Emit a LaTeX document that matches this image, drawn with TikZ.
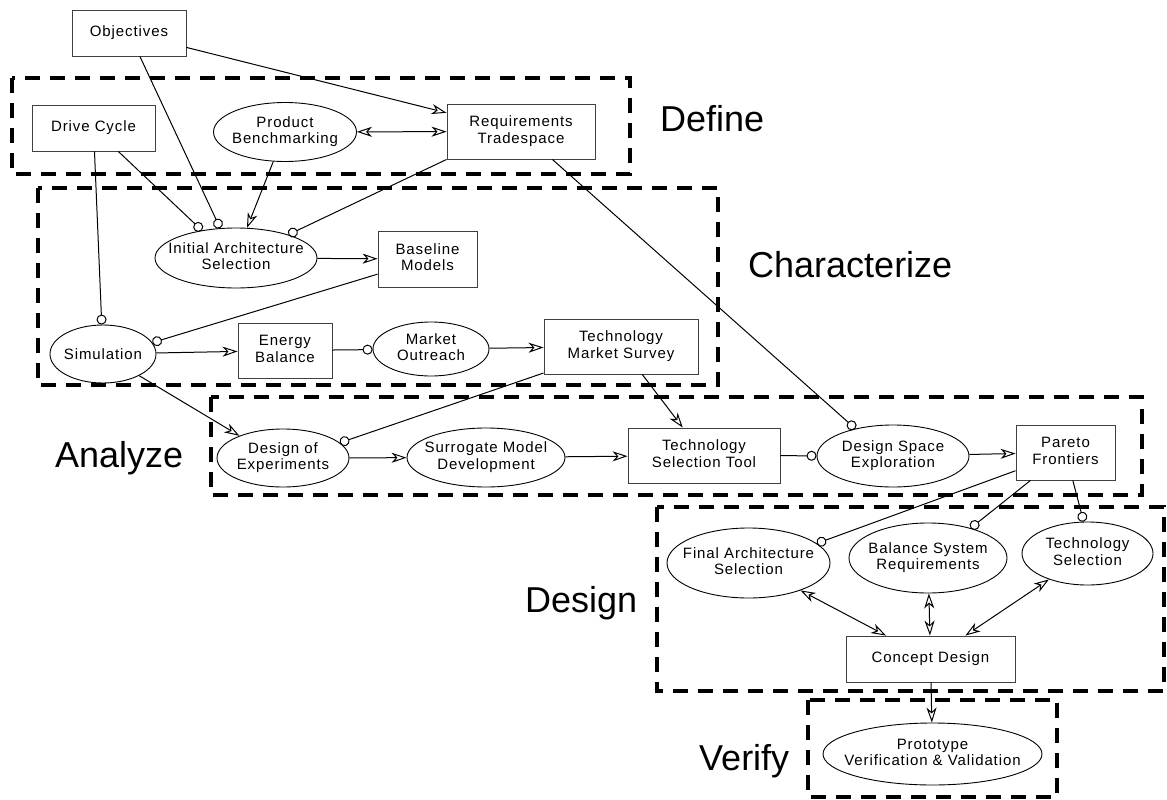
\documentclass[tikz,border=0pt]{standalone}
\usepackage{fontspec}
\usetikzlibrary{shapes.geometric,arrows.meta}
\newfontfamily\nodefont[LetterSpace=6]{Liberation Sans}
\newfontfamily\stagefont{Liberation Sans}
% two centred lines that do not widen the enclosing shape
\newcommand{\twoline}[2]{\makebox[0pt]{\begin{tabular}{@{}c@{}}#1\\#2\end{tabular}}}
\newcommand{\oneline}[1]{\makebox[0pt]{#1}}
\tikzset{
  activity/.style={draw=black!75, line width=0.9pt, inner sep=0pt,
    font=\nodefont\fontsize{15}{16.5}\selectfont},
  boxnode/.style={activity, rectangle},
  ovalnode/.style={activity, ellipse, draw=black},
  phase/.style={draw, line width=4pt, dash pattern=on 15pt off 10pt},
  stagelabel/.style={anchor=base west, inner sep=0pt,
    font=\stagefont\fontsize{36}{40}\selectfont},
  link/.style={line width=1pt},
  oarr/.style={link, -{Stealth[open,length=15pt,width=10pt,inset=4.5pt]}},
  darr/.style={link, {Stealth[open,length=15pt,width=10pt,inset=4.5pt]}-{Stealth[open,length=15pt,width=10pt,inset=4.5pt]}},
  ocirc/.style={link, -{Circle[open,length=10pt]}},
}
\begin{document}
\begin{tikzpicture}[x=1pt,y=-1pt]
\useasboundingbox (0,0) rectangle (1167,800);

% phase frames
\draw[phase] (12,78) rectangle (630,174);
\draw[phase] (38,188) rectangle (718,385);
\draw[phase] (211,397) rectangle (1142,495);
\draw[phase] (657,507) rectangle (1164,691);
\draw[phase] (808,700) rectangle (1057,797);

% phase names
\node[stagelabel] (lbl-define) at (660,131) {Define};
\node[stagelabel] (lbl-char) at (748,277) {Characterize};
\node[stagelabel] (lbl-analyze) at (55,467) {Analyze};
\node[stagelabel] (lbl-design) at (525,612) {Design};
\node[stagelabel] (lbl-verify) at (699,770) {Verify};

% activities
\node[boxnode, minimum width=114pt, minimum height=46pt] (obj) at (129,33) {\oneline{Objectives}};
\node[boxnode, minimum width=123pt, minimum height=46pt] (dc) at (93.5,128) {\oneline{Drive Cycle}};
\node[ovalnode, minimum width=143pt, minimum height=59pt] (pb) at (285,132) {\twoline{Product}{Benchmarking}};
\node[boxnode, minimum width=148pt, minimum height=55pt] (req) at (521,131.5) {\twoline{Requirements}{Tradespace}};
\node[ovalnode, minimum width=162pt, minimum height=60pt] (ias) at (236,258) {\twoline{Initial Architecture}{Selection}};
\node[boxnode, minimum width=99pt, minimum height=56pt] (bm) at (427.5,259) {\twoline{Baseline}{Models}};
\node[ovalnode, minimum width=106pt, minimum height=58pt] (sim) at (103,354) {\oneline{Simulation}};
\node[boxnode, minimum width=94pt, minimum height=55pt] (eb) at (285,350.5) {\twoline{Energy}{Balance}};
\node[ovalnode, minimum width=116pt, minimum height=54pt] (mo) at (431,349) {\twoline{Market}{Outreach}};
\node[boxnode, minimum width=154pt, minimum height=55pt] (tms) at (621,346.5) {\twoline{Technology}{Market Survey}};
\node[ovalnode, minimum width=132pt, minimum height=58pt] (doe) at (283,458) {\twoline{Design of}{Experiments}};
\node[ovalnode, minimum width=158pt, minimum height=59pt] (smd) at (486,457.5) {\twoline{Surrogate Model}{Development}};
\node[boxnode, minimum width=152pt, minimum height=55pt] (tst) at (704,455.5) {\twoline{Technology}{Selection Tool}};
\node[ovalnode, minimum width=152pt, minimum height=62pt] (dse) at (893,456) {\twoline{Design Space}{Exploration}};
\node[boxnode, minimum width=99pt, minimum height=55pt] (pf) at (1065.5,452.5) {\twoline{Pareto}{Frontiers}};
\node[ovalnode, minimum width=163pt, minimum height=70pt] (fas) at (748.5,563) {\twoline{Final Architecture}{Selection}};
\node[ovalnode, minimum width=158pt, minimum height=70pt] (bsr) at (928,558) {\twoline{Balance System}{Requirements}};
\node[ovalnode, minimum width=131pt, minimum height=63pt] (ts) at (1087.5,553.5) {\twoline{Technology}{Selection}};
\node[boxnode, minimum width=169pt, minimum height=46pt] (cd) at (930.5,659) {\oneline{Concept Design}};
\node[ovalnode, minimum width=219pt, minimum height=62pt] (pvv) at (932.5,754) {\twoline{Prototype}{Verification \& Validation}};

% connectors
\draw[oarr] (obj) -- (req);
\draw[ocirc] (obj) -- (ias.118);
\draw[ocirc] (dc) -- (ias.141);
\draw[ocirc] (dc) -- (sim);
\draw[oarr] (pb) -- (ias.70);
\draw[darr] (pb) -- (req);
\draw[ocirc] (req.south west) -- (ias.24);
\draw[ocirc] (req) -- (dse.144);
\draw[oarr] (ias) -- (bm);
\draw[ocirc] (bm) -- (sim.13);
\draw[oarr] (sim) -- (eb);
\draw[ocirc] (eb) -- (mo);
\draw[oarr] (mo) -- (tms);
\draw[oarr] (sim) -- (doe.153);
\draw[ocirc] (tms) -- (doe.15);
\draw[oarr] (doe) -- (smd);
\draw[oarr] (smd) -- (tst);
\draw[oarr] (tms) -- (tst);
\draw[ocirc] (tst) -- (dse);
\draw[oarr] (dse) -- (pf);
\draw[ocirc] (pf) -- (fas.16);
\draw[ocirc] (pf) -- (bsr.35);
\draw[ocirc] (pf) -- (ts.97);
\draw[darr] (fas) -- (cd);
\draw[darr] (bsr) -- (cd);
\draw[darr] (ts) -- (cd);
\draw[oarr] (cd) -- (pvv);
\end{tikzpicture}
\end{document}
